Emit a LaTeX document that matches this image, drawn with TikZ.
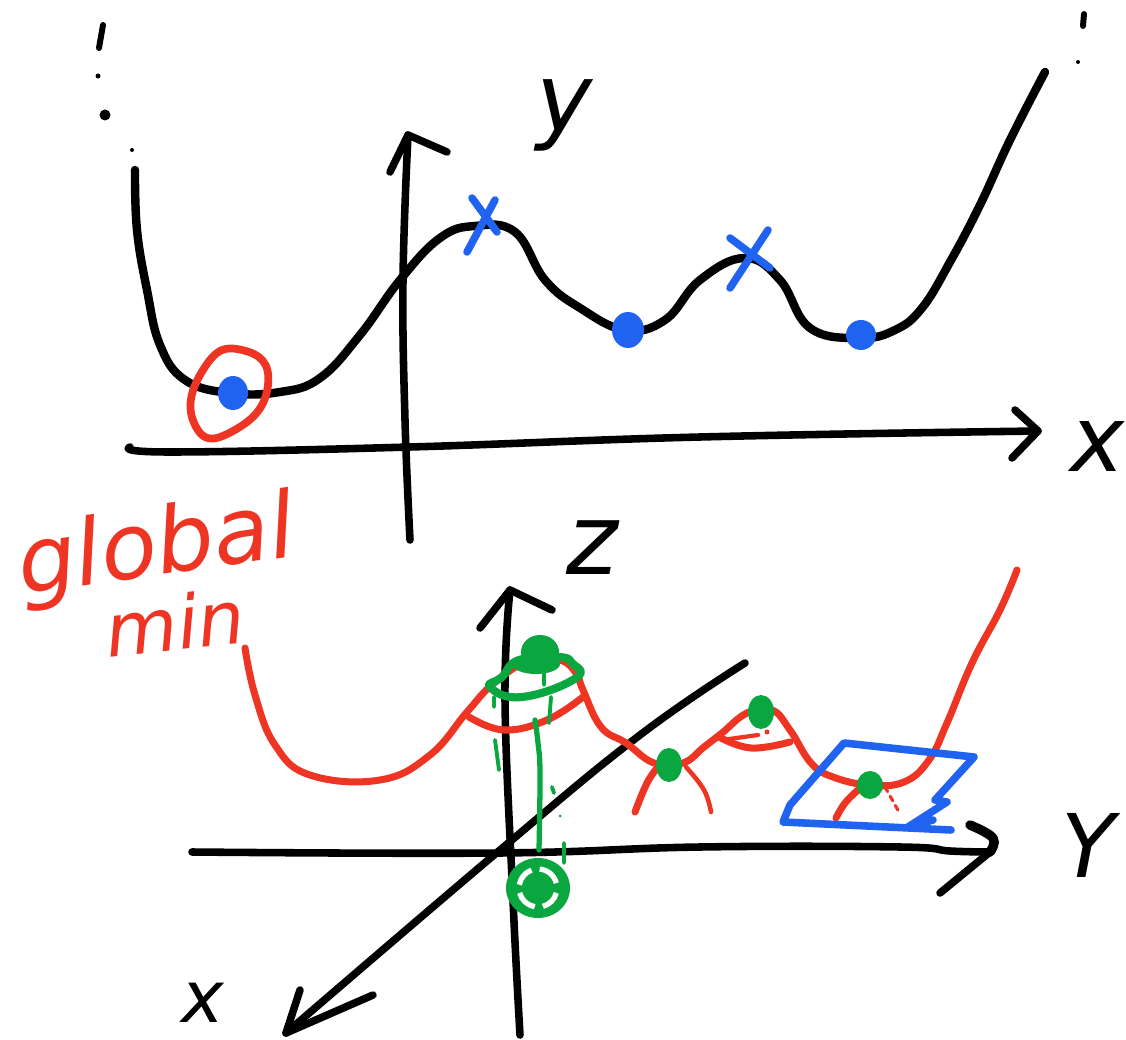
\documentclass[tikz,border=0pt]{standalone}
\usepackage{fontspec}
\setmainfont{DejaVu Sans}
\definecolor{inkred}{HTML}{EE3524}
\definecolor{inkblue}{HTML}{1F63F0}
\definecolor{inkgreen}{HTML}{0AA640}
\tikzset{
  pen/.style={line cap=round,line join=round,line width=#1},
  pen/.default=4pt,
  blackpen/.style={pen=4.3pt,black},
  redpen/.style={pen=4pt,inkred},
  bluepen/.style={pen=4.3pt,inkblue},
  greenpen/.style={pen=3pt,inkgreen},
  hand/.style={inner sep=0pt,font=\fontsize{#1}{#1}\selectfont\itshape},
}
\newcommand{\sm}[1]{plot[smooth,tension=0.7] coordinates {#1}}
\begin{document}
\begin{tikzpicture}[x=0.02cm,y=-0.02cm]
\useasboundingbox[fill=white] (0,0) rectangle (1126,1040);
% ---- top panel
\coordinate (yBase) at (410,540); \coordinate (yTip) at (408,135);
\coordinate (xBase) at (130,447); \coordinate (xTip) at (1038,431);
\draw[blackpen] \sm{(yBase) (405,420) (403,280) (yTip)};
\draw[blackpen] (390,172) -- (yTip) -- (447,152);
\draw[blackpen] \sm{(xBase) (170,452) (410,447) (700,437) (xTip)};
\draw[blackpen] (1015,410) -- (xTip) -- (1012,458);
\draw[blackpen,line width=4.8pt] \sm{(135,170) (137,230) (147,290) (160,345) (185,380) (230,393) (280,392) (320,378) (360,335) (400,280) (440,238) (475,226) (515,232) (545,280) (580,308) (625,330) (665,320) (700,280) (745,258) (780,280) (810,328) (860,338) (895,330) (922,308) (950,262) (980,205) (1010,140) (1045,72)};
% dots at the curve ends
\draw[blackpen,line width=3.4pt] (103,25) -- (99,48);
\fill (98,76) circle (2.5); \fill (105,115) circle (5.5); \fill (132,150) circle (2);
\draw[blackpen,line width=3.4pt] (1084,14) -- (1083,26);
\fill (1078,62) circle (2);
% blue marks
\draw[bluepen] (472,198) -- (497,232) (495,200) -- (467,252);
\draw[bluepen] (730,238) -- (770,268) (768,230) -- (730,288);
\fill[inkblue] (233,393) ellipse (15 and 17);
\fill[inkblue] (628,330) ellipse (16 and 18);
\fill[inkblue] (861,335) ellipse (15 and 15);
\draw[redpen,line width=4.4pt] plot[smooth cycle,tension=1] coordinates {(242,350) (268,385) (233,431) (195,425) (203,370)};
% labels
\node[hand=54] (ly) at (565,115) {y};
\node[hand=52] (lx) at (1098,447) {x};
\node[hand=52,text=inkred,rotate=8] (lglobal) at (157,550) {global};
\node[hand=42,text=inkred,rotate=6] (lmin) at (175,622) {min};
\node[hand=56] (lz) at (592,548) {z};
\node[hand=50] (lY) at (1088,845) {Y};
\node[hand=41] (lx2) at (203,1003) {x};
% ---- bottom panel
\coordinate (zBase) at (520,1035); \coordinate (zTip) at (510,590);
\coordinate (YBase) at (192,852); \coordinate (YTip) at (990,852);
\coordinate (dBase) at (745,663); \coordinate (dTip) at (286,1033);
\draw[blackpen] \sm{(zBase) (513,900) (505,700) (zTip)};
\draw[blackpen] (480,628) -- (zTip) -- (552,610);
\draw[blackpen] \sm{(YBase) (500,853) (700,847) (900,847) (950,851) (YTip)};
\draw[blackpen,line width=5.4pt] plot[smooth,tension=0.7] coordinates {(970,825) (993,838) (YTip)};
\draw[blackpen] (YTip) -- (940,893);
\draw[blackpen] \sm{(dBase) (640,735) (500,850) (dTip)};
\draw[blackpen] (300,990) -- (dTip) -- (373,995);
% red curve
\draw[redpen] \sm{(245,648) (255,695) (275,745) (310,775) (380,780) (430,755) (467,712) (494,683) (530,660) (560,660) (576,673) (583,690) (601,727) (626,743) (654,763) (683,763) (704,747) (722,733) (747,713) (772,710) (790,730) (811,763) (833,777) (869,785) (904,782) (929,760) (947,723) (972,663) (1000,610) (1017,570)};
\draw[redpen] \sm{(469,717) (504,730) (547,720) (583,697)};
\draw[redpen] \sm{(719,737) (751,748) (790,742)};
\draw[redpen,line width=2.4pt] (722,740) -- (758,735);
\fill[inkred] (767,732) circle (2.5);
\draw[redpen] \sm{(635,812) (647,783) (658,767)};
\draw[redpen,line width=2.6pt] \sm{(686,767) (704,790) (711,812)};
\draw[redpen] \sm{(836,818) (845,803) (858,790)};
\draw[redpen,line width=1.8pt,dashed] (885,787) -- (899,812);
% blue plane
\draw[bluepen] (951,830) -- (783,822) -- (790,805) -- (844,743) -- (974,757) -- (935,800) -- (947,802) -- (908,827) (908,827) -- (933,820);
% green
\draw[greenpen,line width=4.6pt] plot[smooth cycle,tension=0.8] coordinates {(490,687) (522,697) (576,678) (572,663) (558,657) (519,660) (502,677)};
\fill[inkgreen] (540,652) ellipse (19 and 17);
\fill[inkgreen] (536,664) ellipse (24 and 10);
\fill[inkgreen] (761,712) ellipse (13 and 17);
\fill[inkgreen] (669,765) ellipse (13 and 17);
\fill[inkgreen] (870,785) ellipse (13 and 14);
\draw[greenpen] \sm{(535,720) (538,743) (540,773) (539,850)};
\draw[greenpen,line width=2.2pt] (495,740) -- (499,770) (494,697) -- (494,707) (551,697) -- (549,723) (544,667) -- (544,685) (552,787) -- (554,793) (564,843) -- (564,863);
\fill[inkgreen] (560,816) circle (1.5);
\fill[inkgreen] (538,888) ellipse (32 and 30);
\foreach \a/\b in {15/75,100/165,190/250,275/345}
  \draw[white,line width=3pt] (538,888) ++(\a:19) arc[start angle=\a,end angle=\b,radius=19];
\fill[inkgreen] (538,888) ellipse (13 and 13);
\end{tikzpicture}
\end{document}
